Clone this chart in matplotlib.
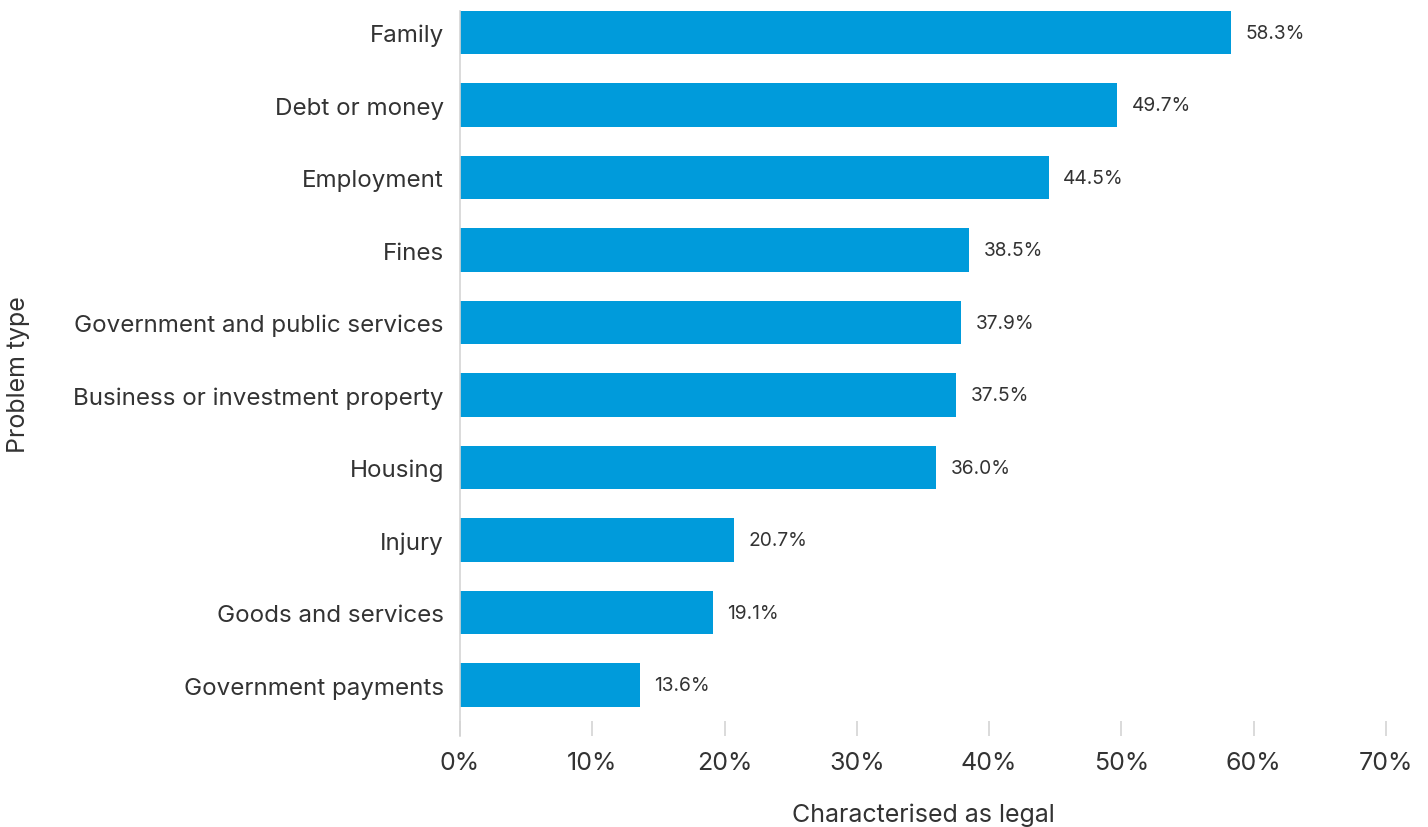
import matplotlib.pyplot as plt
from matplotlib.ticker import FuncFormatter

plt.rcParams['font.family'] = ['Inter', 'DejaVu Sans']

# Share of problems characterised as legal, by problem type.
problem_types = ['Family', 'Debt or money', 'Employment', 'Fines',
                 'Government and public services', 'Business or investment property',
                 'Housing', 'Injury', 'Goods and services', 'Government payments']
pct_legal = [58.3, 49.7, 44.5, 38.5, 37.9, 37.5, 36.0, 20.7, 19.1, 13.6]
x_ticks = [0, 10, 20, 30, 40, 50, 60, 70]

bar_c = '#009bdb'
text_c = '#333333'
grid_c = '#d4d4d4'

fig = plt.figure(figsize=(14.28, 8.28), dpi=100)
ax = fig.add_axes([0.3221, 0.1099, 0.6485, 0.8756])

pos = list(range(len(problem_types)))
ax.barh(pos, pct_legal, height=0.6, color=bar_c, zorder=2)

for y, v in zip(pos, pct_legal):
    ax.text(v + 1.1, y, f'{v:.1f}%', va='center', ha='left', fontsize=13.8, color=text_c)

ax.set_xlim(0, 70)
ax.set_ylim(9.703, -0.3)
ax.set_xticks(x_ticks)
ax.xaxis.set_major_formatter(FuncFormatter(lambda v, p: f'{v:.0f}%'))
ax.set_yticks(pos)
ax.set_yticklabels(problem_types)

ax.tick_params(axis='x', direction='in', length=10.8, width=1.2, color=grid_c,
               labelsize=18, labelcolor=text_c, pad=11)
ax.tick_params(axis='y', length=0, labelsize=17.4, labelcolor=text_c, pad=11.5)

for s in ['top', 'right', 'bottom']:
    ax.spines[s].set_visible(False)
ax.spines['left'].set_color(grid_c)
ax.spines['left'].set_linewidth(1.2)

ax.set_xlabel('Characterised as legal', fontsize=18, color=text_c)
ax.xaxis.set_label_coords(0.5, -0.117)
ax.xaxis.label.set_va('baseline')
ax.set_ylabel('Problem type', fontsize=18, color=text_c)
ax.yaxis.set_label_coords(-0.464, 0.5)

fig.savefig('out.png', dpi=100)
plt.close()
